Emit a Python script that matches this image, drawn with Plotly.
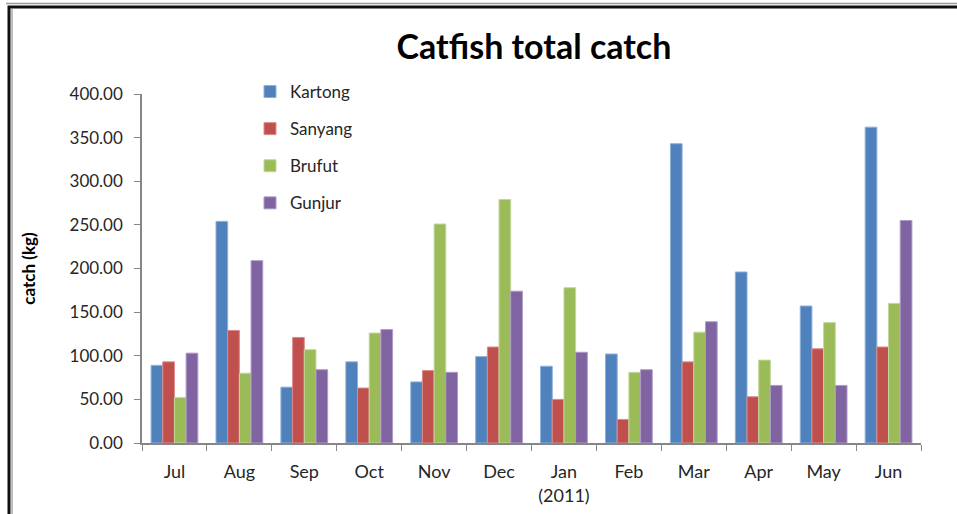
import plotly.graph_objects as go

months = ["Jul", "Aug", "Sep", "Oct", "Nov", "Dec", "Jan<br>(2011)", "Feb", "Mar", "Apr", "May", "Jun"]
kartong = [89, 254, 64, 93, 70, 99, 88, 102, 343, 196, 157, 362]
sanyang = [93, 129, 121, 63, 83, 110, 50, 27, 93, 53, 108, 110]
brufut = [52, 80, 107, 126, 251, 279, 178, 81, 127, 95, 138, 160]
gunjur = [103, 209, 84, 130, 81, 174, 104, 84, 139, 66, 66, 255]
y_ticks = [0, 50, 100, 150, 200, 250, 300, 350, 400]

series = [
    ("Kartong", kartong, "#4F81BD", "#8FB0DA"),
    ("Sanyang", sanyang, "#C0504D", "#DA8B89"),
    ("Brufut", brufut, "#9BBB59", "#C2D89A"),
    ("Gunjur", gunjur, "#8064A2", "#AE9AC6"),
]

FONT = "Lato"
fig = go.Figure()
for i, (name, vals, col, edge) in enumerate(series):
    fig.add_trace(go.Bar(
        x=months, y=vals, name=name, legendgroup=name,
        marker=dict(color=col, line=dict(color=edge, width=1)),
    ))

# plot area px: x 142..921, y 94..443
L, R, T, B = 142, 921, 94, 443
W, H = R - L, B - T
def px(x):
    return (x - L) / W
def py(y):
    return (B - y) / H

fig.update_layout(
    width=957, height=514,
    margin=dict(l=L, r=957 - R, t=T, b=514 - B, autoexpand=False),
    paper_bgcolor="white", plot_bgcolor="white",
    barmode="group", bargap=0.28, bargroupgap=0,
    font=dict(family=FONT, size=16, color="#404040"),
    title=dict(text="<b>Catfish total catch</b>", x=(534 - L) / W, xref="paper", xanchor="center",
               y=(514 - 47) / 514, yanchor="middle",
               font=dict(family=FONT, size=34, color="#000000")),
    legend=dict(x=px(250), y=py(74), xanchor="left", yanchor="top", xref="paper", yref="paper",
                bgcolor="rgba(0,0,0,0)", font=dict(family=FONT, size=17, color="#262626"),
                tracegroupgap=12, traceorder="grouped", itemwidth=30),
    showlegend=True,
)
fig.update_xaxes(
    type="category", showline=True, linecolor="#868686", linewidth=1.5,
    ticks="outside", tickson="boundaries", ticklen=6, tickcolor="#868686",
    ticklabelstandoff=12, automargin=False,
    tickfont=dict(family=FONT, size=18, color="#262626"), showgrid=False,
)
fig.update_yaxes(
    range=[0, 400], tickvals=y_ticks, ticktext=[f"{v:.2f}" for v in y_ticks],
    showline=True, linecolor="#868686", linewidth=1.5,
    ticks="outside", ticklen=6, tickcolor="#868686", showgrid=False, zeroline=False,
    ticklabelstandoff=8, automargin=False,
    tickfont=dict(family=FONT, size=17, color="#262626"),
    title=dict(text="<b>catch (kg)</b>", font=dict(family=FONT, size=17, color="#000000"), standoff=30),
)
# outer frame
fig.add_shape(type="rect", xref="paper", yref="paper",
              x0=px(9), x1=px(980), y0=py(540), y1=py(7),
              line=dict(color="#111111", width=3), fillcolor="rgba(0,0,0,0)", layer="below")
fig.add_shape(type="line", xref="paper", yref="paper",
              x0=px(6), x1=px(980), y0=py(3.5), y1=py(3.5),
              line=dict(color="#9a9a9a", width=1.5))
fig.add_shape(type="line", xref="paper", yref="paper",
              x0=px(12), x1=px(12), y0=py(540), y1=py(9),
              line=dict(color="#aaaaaa", width=1.5))

fig.write_html("out.html")
